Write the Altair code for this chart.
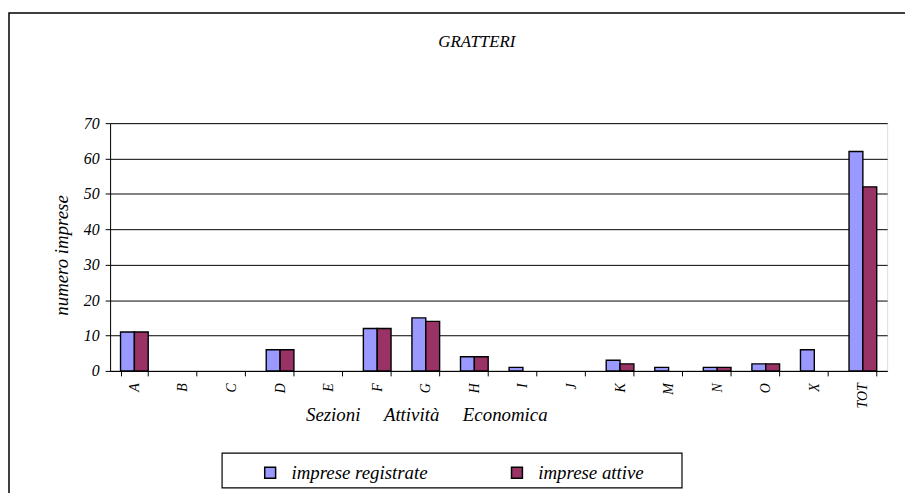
import altair as alt
import pandas as pd

categories = ["A", "B", "C", "D", "E", "F", "G", "H", "I", "J", "K", "M", "N", "O", "X", "TOT"]
registrate = [11, 0, 0, 6, 0, 12, 15, 4, 1, 0, 3, 1, 1, 2, 6, 62]
attive = [11, 0, 0, 6, 0, 12, 14, 4, 0, 0, 2, 0, 1, 2, 0, 52]
series = ["imprese registrate", "imprese attive"]
colors = ["#9999FF", "#993366"]

rows = []
for c, r, a in zip(categories, registrate, attive):
    rows.append({"cat": c, "serie": series[0], "val": r})
    rows.append({"cat": c, "serie": series[1], "val": a})
df = pd.DataFrame(rows)

FONT = "Liberation Serif"
STYLE = "oblique"

bars = alt.Chart(df).mark_bar(stroke="black", strokeWidth=1.4).encode(
    x=alt.X(
        "cat:N",
        sort=categories,
        scale=alt.Scale(paddingInner=0.43, paddingOuter=0.215),
        axis=alt.Axis(
            title="Sezioni\u00a0\u00a0\u00a0\u00a0\u00a0Attività\u00a0\u00a0\u00a0\u00a0\u00a0Economica",
            titleX=319,
            titleY=50,
            titleAlign="center",
            titleBaseline="alphabetic",
            titleFontSize=19,
            titleFontStyle=STYLE,
            titleFontWeight="normal",
            titleFont=FONT,
            labelAngle=270,
            labelAlign="right",
            labelBaseline="middle",
            labelPadding=7,
            labelFontSize=14,
            labelFontStyle=STYLE,
            labelFont=FONT,
            labelColor="black",
            tickBand="extent",
            tickSize=5,
            tickColor="black",
            domainColor="black",
            grid=False,
        ),
    ),
    xOffset=alt.XOffset("serie:N", sort=series, scale=alt.Scale(paddingInner=0, paddingOuter=0)),
    y=alt.Y(
        "val:Q",
        scale=alt.Scale(domain=[0, 70], nice=False),
        axis=alt.Axis(
            values=[0, 10, 20, 30, 40, 50, 60, 70],
            title="numero imprese",
            titleX=-49,
            titleY=133,
            titleAngle=270,
            titleAlign="center",
            titleBaseline="middle",
            titleFontSize=19,
            titleFontStyle=STYLE,
            titleFontWeight="normal",
            titleFont=FONT,
            labelFontSize=16,
            labelFontStyle=STYLE,
            labelFont=FONT,
            labelColor="black",
            labelPadding=6,
            tickSize=5,
            tickColor="black",
            domainColor="black",
            gridColor="black",
            gridWidth=1,
        ),
    ),
    color=alt.Color(
        "serie:N",
        sort=series,
        scale=alt.Scale(domain=series, range=colors),
        legend=alt.Legend(
            title=None,
            orient="none",
            direction="horizontal",
            legendX=152,
            legendY=343,
            symbolType="square",
            symbolSize=121,
            symbolStrokeColor="black",
            symbolStrokeWidth=1.5,
            symbolOpacity=1,
            labelFontSize=19,
            labelFontStyle=STYLE,
            labelFont=FONT,
            labelColor="black",
            labelOffset=12,
            columnPadding=80,
            labelLimit=300,
        ),
    ),
    strokeOpacity=alt.condition(alt.datum.val > 0, alt.value(1), alt.value(0)),
)

one = pd.DataFrame({"k": [0]})
outer = alt.Chart(one).mark_rect(fill=None, stroke="black", strokeWidth=1.5).encode(
    x=alt.value(-102), x2=alt.value(812), y=alt.value(-111), y2=alt.value(380)
)
legend_box = alt.Chart(one).mark_rect(fill=None, stroke="black", strokeWidth=1.2).encode(
    x=alt.value(113), x2=alt.value(577), y=alt.value(333), y2=alt.value(368)
)
title = alt.Chart(one).mark_text(
    font=FONT, fontSize=17, fontStyle=STYLE, color="black", align="center", baseline="alphabetic"
).encode(x=alt.value(370), y=alt.value(-77), text=alt.value("GRATTERI"))

chart = alt.layer(outer, legend_box, title, bars).properties(
    width=784,
    height=250,
    padding={"left": 103, "top": 114, "right": 18, "bottom": 121},
    autosize=alt.AutoSizeParams(type="none"),
).configure_view(stroke="#808080", strokeWidth=1.5).configure(background="white", font=FONT)

chart.save("out.html", embed_options={"renderer": "svg", "actions": False})
